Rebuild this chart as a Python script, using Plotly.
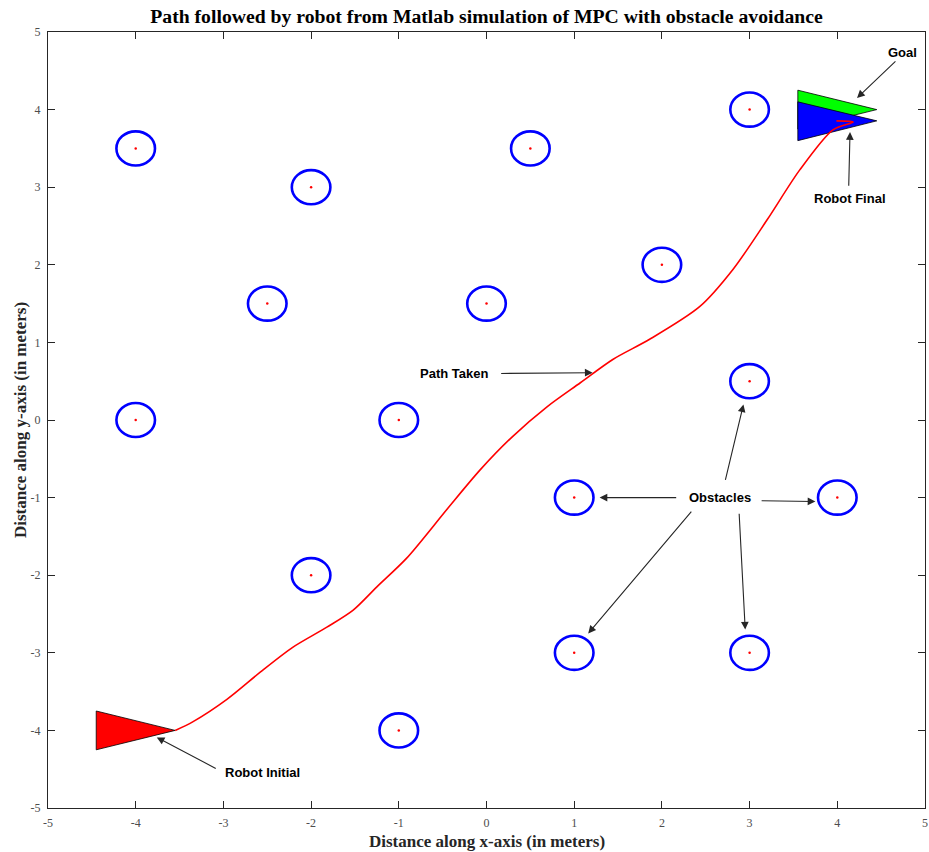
import plotly.graph_objects as go

# Obstacle centres (m) and their radius
obs_x = [-4, -2, 0.5, 3, -2.5, 0, 2, -4, -1, 3, 1, 4, -2, 1, 3, -1]
obs_y = [3.5, 3, 3.5, 4, 1.5, 1.5, 2, 0, 0, 0.5, -1, -1, -2, -3, -3, -4]
obs_r = 0.22

# Path followed by the robot (m)
path_x = [-3.55, -3.35, -2.96, -2.58, -2.21, -1.82, -1.52, -1.25, -0.91,
          -0.45, -0.07, 0.30, 0.69, 1.07, 1.44, 1.86, 2.43, 2.81,
          3.20, 3.57, 3.95, 4.18, 3.99]
path_y = [-4.00, -3.89, -3.60, -3.25, -2.93, -2.67, -2.45, -2.15, -1.78,
          -1.15, -0.64, -0.21, 0.17, 0.48, 0.78, 1.04, 1.46, 1.94,
          2.58, 3.22, 3.74, 3.84, 3.855]

# Robot outlines (triangle vertices)
init_x = [-4.45, -4.45, -3.55]
init_y = [-3.75, -4.25, -4.0]
goal_x = [3.55, 3.55, 4.45]
goal_y = [4.25, 3.75, 4.0]
final_x = [3.55, 3.55, 4.45]
final_y = [4.10, 3.60, 3.855]

ticks = [-5, -4, -3, -2, -1, 0, 1, 2, 3, 4, 5]

fig = go.Figure()

# obstacles as circles
for cx, cy in zip(obs_x, obs_y):
    fig.add_shape(type="circle", xref="x", yref="y",
                  x0=cx - obs_r, x1=cx + obs_r, y0=cy - obs_r, y1=cy + obs_r,
                  line=dict(color="#0000ff", width=2.6))
fig.add_trace(go.Scatter(x=obs_x, y=obs_y, mode="markers",
                         marker=dict(color="red", size=2.5), hoverinfo="skip"))

def tri(xs, ys, color):
    return go.Scatter(x=xs + [xs[0]], y=ys + [ys[0]], mode="lines", fill="toself",
                      fillcolor=color, line=dict(color="black", width=0.8),
                      hoverinfo="skip")

fig.add_trace(tri(init_x, init_y, "#ff0000"))
fig.add_trace(tri(goal_x, goal_y, "#00ff00"))
fig.add_trace(tri(final_x, final_y, "#0000ff"))

fig.add_trace(go.Scatter(x=path_x, y=path_y, mode="lines",
                         line=dict(color="#ff0000", width=1.6, shape="spline",
                                   smoothing=0.8), hoverinfo="skip"))

lab_font = dict(family="Liberation Sans, Arial", size=13, color="black")
arrow_col = "#262626"

# text labels
labels = [("Goal", 4.74, 4.74), ("Robot Final", 4.145, 2.86),
          ("Robot Initial", -2.55, -4.54), ("Path Taken", -0.37, 0.60),
          ("Obstacles", 2.66, -1.0)]
for txt, lx, ly in labels:
    fig.add_annotation(x=lx, y=ly, text="<b>%s</b>" % txt, showarrow=False,
                       font=lab_font, xanchor="center", yanchor="middle")

# arrows: (head x, head y, tail x, tail y)
arrows = [
    (4.225, 4.15, 4.68, 4.64),
    (4.145, 3.71, 4.13, 3.0),
    (-3.76, -4.09, -3.07, -4.50),
    (1.21, 0.61, 0.15, 0.60),
    (1.29, -1.0, 2.18, -1.0),
    (3.75, -1.05, 3.12, -1.04),
    (2.93, 0.20, 2.72, -0.79),
    (1.16, -2.75, 2.35, -1.16),
    (2.95, -2.70, 2.88, -1.19),
]
for hx, hy, tx, ty in arrows:
    fig.add_annotation(x=hx, y=hy, ax=tx, ay=ty, xref="x", yref="y",
                       axref="x", ayref="y", text="", showarrow=True,
                       arrowhead=2, arrowsize=1.4, arrowwidth=1.1,
                       arrowcolor=arrow_col, standoff=0, startstandoff=0)

serif = "Liberation Serif, Times New Roman, serif"
fig.add_annotation(x=0.5, y=0, xref="paper", yref="paper", yanchor="middle",
                   yshift=-33, showarrow=False,
                   text="<b>Distance along x-axis (in meters)</b>",
                   font=dict(family=serif, size=17, color="#262626"))
fig.add_annotation(x=0, y=0.5, xref="paper", yref="paper", xanchor="center",
                   xshift=-28, showarrow=False, textangle=-90,
                   text="<b>Distance along y-axis (in meters)</b>",
                   font=dict(family=serif, size=17, color="#262626"))

axis_common = dict(range=[-5, 5], tickvals=ticks, ticktext=[str(t) for t in ticks],
                   showgrid=False, zeroline=False, showline=True, mirror="ticks",
                   linecolor="#262626", linewidth=1, ticks="inside", ticklen=7,
                   tickcolor="#262626", automargin=False,
                   tickfont=dict(family=serif, size=12, color="#4d4d4d"))

fig.update_layout(
    width=929, height=852,
    margin=dict(l=48, r=4, t=32, b=44),
    paper_bgcolor="white", plot_bgcolor="white",
    showlegend=False,
    title=dict(text="<b>Path followed by robot from Matlab simulation of MPC with obstacle avoidance</b>",
               x=486.5 / 929, xanchor="center", y=1 - 16 / 852, yanchor="middle",
               yref="container", font=dict(family=serif, size=19.7, color="black")),
    xaxis=dict(**axis_common, ticklabelstandoff=4),
    yaxis=dict(**axis_common, ticklabelstandoff=4),
)

fig.write_html("out.html")
